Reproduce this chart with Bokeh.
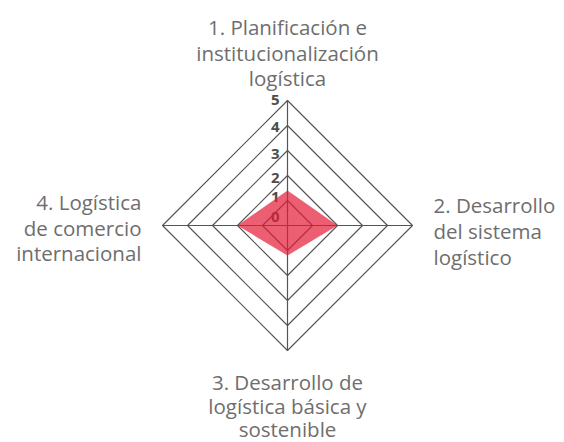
from bokeh.plotting import figure
from bokeh.models import Range1d
from bokeh.core.properties import value
from bokeh.embed import file_html
from bokeh.resources import INLINE
import numpy as np

categories = [["1. Planificación e", "institucionalización", "logística"],
              ["2. Desarrollo", "del sistema", "logístico"],
              ["3. Desarrollo de", "logística básica y", "sostenible"],
              ["4. Logística", "de comercio", "internacional"]]
values = [1.4, 2.0, 1.2, 2.0]
ticks = [0, 1, 2, 3, 4, 5]
tick_labels = ["0", "1", "2", "3", "4", "5"]

W, H = 564, 442
scale = 25.0
cx, cy = 287, 225
p = figure(width=W, height=H, output_backend="svg", toolbar_location=None,
           x_range=Range1d(-cx / scale, (W - cx) / scale),
           y_range=Range1d(-(H - cy) / scale, cy / scale),
           min_border=0, outline_line_color=None)
p.axis.visible = False
p.grid.visible = False
p.background_fill_color = None
p.border_fill_color = None

# angles: top, right, bottom, left
ang = np.array([np.pi / 2, 0, -np.pi / 2, np.pi])
dx = np.round(np.cos(ang), 9)
dy = np.round(np.sin(ang), 9)

grid_col = "#555555"
rx, ry = [], []
for t in ticks[1:]:
    rx.append(list(dx * t) + [dx[0] * t])
    ry.append(list(dy * t) + [dy[0] * t])
p.multi_line(rx, ry, line_color=grid_col, line_width=1.2)
mx = max(ticks)
p.multi_line([[0, dx[i] * mx] for i in range(4)], [[0, dy[i] * mx] for i in range(4)],
             line_color=grid_col, line_width=1.2)

# tick labels
p.text(x=[0] * len(ticks), y=ticks, text=tick_labels, text_align="right",
       text_baseline="middle", x_offset=-8, y_offset=[-9, -4, 2, 3, 1, -1],
       text_font=value("Open Sans"), text_font_style="bold", text_font_size="15px",
       text_color="#4d4d4d")

# data polygon
v = np.array(values)
p.patch(list(dx * v), list(dy * v), fill_color="#E41A35", fill_alpha=0.7, line_color=None)

# category labels, one glyph per line
lab_font = dict(text_font=value("Open Sans"), text_font_size="20.5px", text_color="#6e6e6e",
                text_baseline="alphabetic")
settings = [
    ("center", 0, [-74, -48, -22.5]),
    ("left", 21, [-20.5, 5.5, 31]),
    ("center", 0, [31, 55, 78.5]),
    ("right", -21, [-23.5, 2, 27.5]),
]
for i, (align, xo, yos) in enumerate(settings):
    for line, yo in zip(categories[i], yos):
        p.text(x=[dx[i] * mx], y=[dy[i] * mx], text=[line], text_align=align,
               x_offset=xo, y_offset=yo, **lab_font)

open("out.html", "w").write(file_html(p, INLINE))
